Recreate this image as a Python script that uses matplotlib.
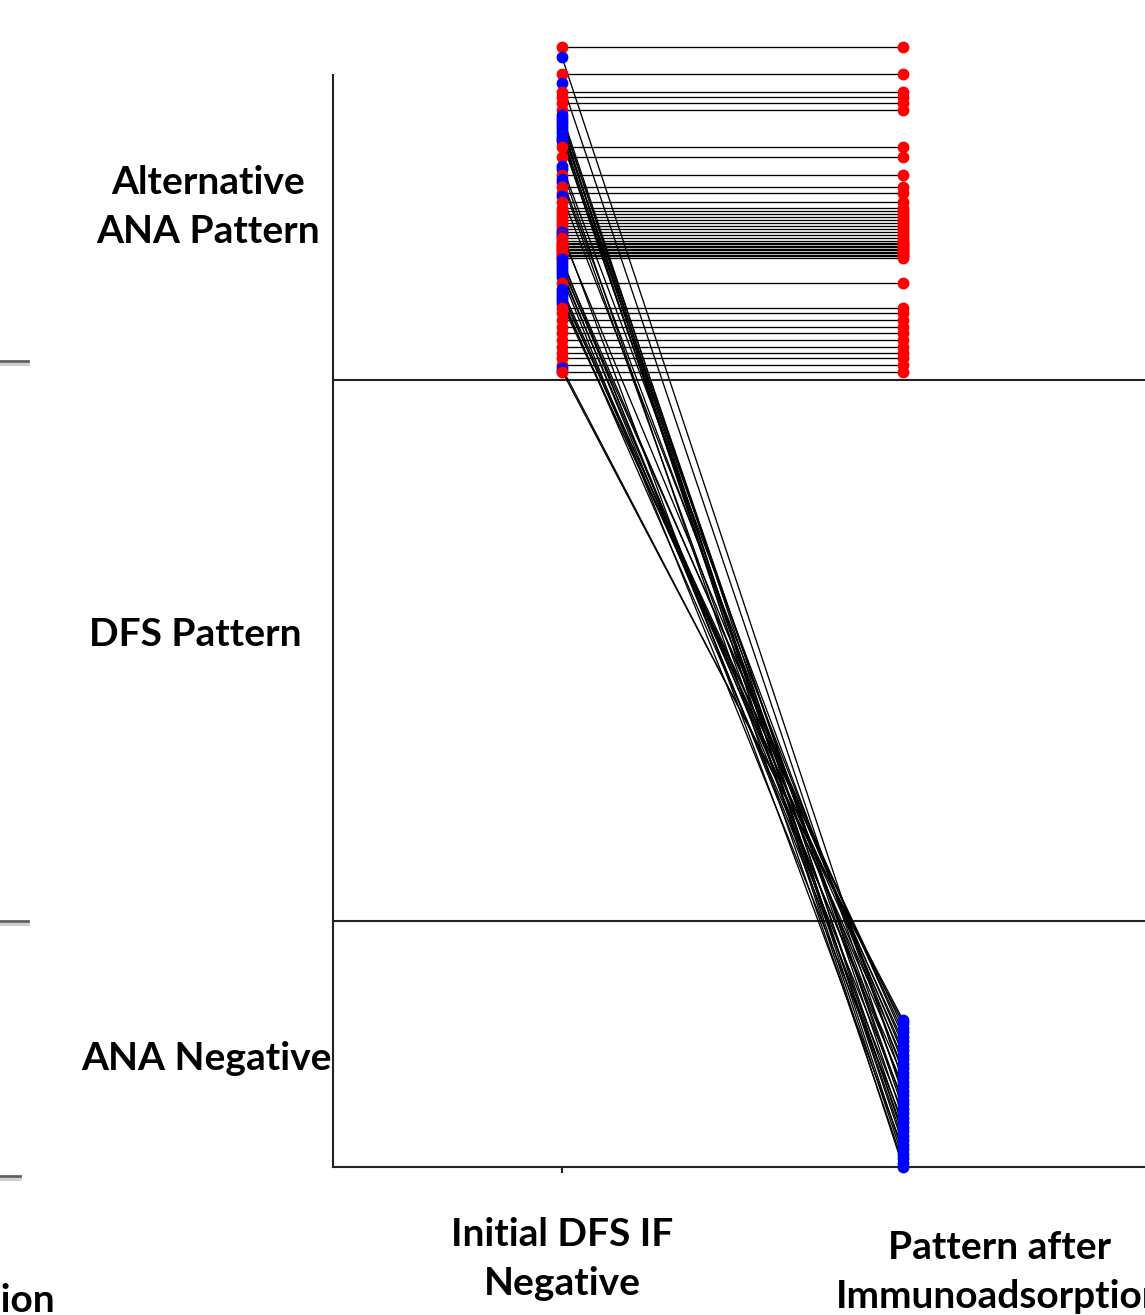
import matplotlib.pyplot as plt
from matplotlib.lines import Line2D

# Patient positions on the ordinal pattern scale (0 = bottom of chart)
# Patients keeping an alternative ANA pattern after immunoadsorption
stay_initial = [112.0, 109.3, 107.5, 107.0, 106.4, 105.7, 102.0, 101.0, 99.2, 98.0,
                97.4, 96.5, 95.9, 95.6, 95.3, 95.0, 94.7, 94.4, 94.1, 93.8,
                93.5, 93.2, 92.9, 92.6, 92.45, 92.3, 92.15, 92.0, 91.85, 91.7,
                91.55, 91.4, 91.25, 91.1, 90.95, 88.4, 85.9, 85.4, 84.7, 84.0,
                83.4, 82.7, 82.0, 81.4, 80.9, 80.2, 79.5]
stay_after = stay_initial

# Patients becoming ANA negative after immunoadsorption
neg_initial = [111.0, 108.4, 105.2, 104.9, 104.6, 104.3, 104.0, 103.7, 103.4, 103.0,
               102.8, 102.6, 100.1, 99.8, 98.8, 98.5, 97.1, 93.5, 93.1, 90.8,
               90.5, 90.2, 89.9, 89.6, 89.3, 89.0, 87.8, 87.5, 87.2, 86.9,
               86.6, 86.3, 79.9, 79.6]
neg_after = [8.55, 7.2, 3.15, 1.35, 4.95, 0.0, 2.25, 5.85, 0.9, 6.3,
             2.7, 4.05, 9.45, 0.45, 7.65, 3.6, 10.35, 1.8, 11.25, 5.4,
             12.15, 8.1, 13.05, 6.75, 9.9, 4.5, 11.7, 10.8, 13.5, 9.0,
             12.6, 13.95, 14.4, 14.7]

# band borders on the same scale
band_edges = [78.7, 24.6]
band_labels = ['Alternative\nANA Pattern', 'DFS Pattern', 'ANA Negative']
x_labels = ['Initial DFS IF\nNegative', 'Pattern after\nImmunoadsorption']

W, H = 1145, 1315
def fx(x):
    return x / W
def fy(y):
    return 1 - y / H

plt.rcParams['font.family'] = ['Lato', 'DejaVu Sans']
fig = plt.figure(figsize=(W / 100, H / 100), dpi=100)
ax = fig.add_axes([fx(333), fy(1167), 1 - fx(333), fy(40) - fy(1167)])

ax.set_xlim(1 - 229 / 341, 2 + 242 / 341)
ax.set_ylim(0, 112.7)

# connecting lines
for a, b in zip(stay_initial, stay_after):
    ax.plot([1, 2], [a, b], color='black', lw=0.95, zorder=2)
for a, b in zip(neg_initial, neg_after):
    ax.plot([1, 2], [a, b], color='black', lw=0.95, zorder=2)

# points
ms = 7.5
rows = sorted([(a, b, 'red') for a, b in zip(stay_initial, stay_after)] +
              [(a, b, 'blue') for a, b in zip(neg_initial, neg_after)],
              key=lambda r: -r[0])
for a, b, c in rows:
    ax.plot([1, 2], [a, b], 'o', color=c, ms=ms, mec=c, lw=0, zorder=4, clip_on=False)

for e in band_edges:
    ax.axhline(e, color='#222222', lw=1.5, zorder=1)

for s in ['top', 'right']:
    ax.spines[s].set_visible(False)
for s in ['left', 'bottom']:
    ax.spines[s].set_linewidth(1.5)
    ax.spines[s].set_color('#222222')
ax.spines['left'].set_bounds(0, 109.2)
ax.set_yticks([])
ax.set_xticks([1, 2])
ax.set_xticklabels([])
ax.tick_params(axis='x', length=4, width=1.5, color='#222222')

tkw = dict(fontsize=28, fontweight='bold', ha='center', va='center', linespacing=1.5)
fig.text(fx(208), fy(207), band_labels[0], **tkw)
fig.text(fx(195), fy(634), band_labels[1], **tkw)
fig.text(fx(206), fy(1058), band_labels[2], **tkw)
fig.text(fx(562), fy(1259), x_labels[0], **tkw)
fig.text(fx(1000), fy(1272), x_labels[1], **tkw)

# fragments of the neighbouring panel at the left edge
fig.text(fx(55), fy(1300), 'Immunoadsorption', fontsize=28, fontweight='bold',
         ha='right', va='center')
for y, x1 in [(361, 28), (921, 28), (1176, 20)]:
    fig.add_artist(Line2D([0, fx(x1)], [fy(y), fy(y)], color='#606060', lw=2))
    fig.add_artist(Line2D([0, fx(x1)], [fy(y + 3), fy(y + 3)], color='#cccccc', lw=2))

fig.savefig('out.png', dpi=100)
